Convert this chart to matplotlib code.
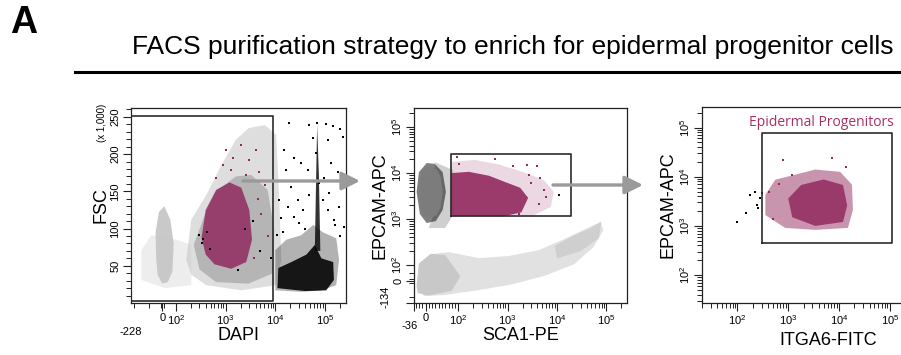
import numpy as np
import matplotlib
matplotlib.use('Agg')
import matplotlib.pyplot as plt
from matplotlib.ticker import FixedLocator, NullFormatter
import matplotlib.transforms as mtransforms

plt.rcParams['font.family'] = ['Liberation Sans', 'DejaVu Sans']
plt.rcParams['mathtext.fontset'] = 'custom'
plt.rcParams['mathtext.rm'] = 'Liberation Sans'
plt.rcParams['mathtext.it'] = 'Liberation Sans'

LIGHT = '#c4c4c4'
DARK = '#7c7c7c'
MAGENTA = '#922a5f'
GATE = '#2b2b2b'
ARROW = '#9a9a9a'

# ---------------- panel 1 : DAPI vs FSC (x 1,000) ----------------
p1_band_x = [-45, -50, -25, 15, 60, 85, 75, 40, 0, -35]
p1_band_y = [60, 95, 122, 130, 112, 80, 42, 28, 26, 38]

p1_low_x = [-141, -82, 103, 205, 205, 20, -141]
p1_low_y = [71, 91, 85, 78, 24, 20, 31]

p1_live_outer_x = [163, 205, 410, 822, 1600, 2900, 6200, 10400, 12000, 13200, 10400, 2070, 410, 205]
p1_live_outer_y = [58, 112, 145, 185, 219, 235, 239, 226, 138, 58, 24, 17, 24, 38]

p1_live_mid_x = [230, 380, 650, 1600, 3300, 7000, 9500, 9000, 2900, 650, 300]
p1_live_mid_y = [78, 118, 150, 170, 172, 152, 98, 40, 26, 28, 45]

p1_core_x = [330, 400, 650, 1200, 2070, 3000, 3400, 2600, 1300, 600, 400]
p1_core_y = [88, 125, 152, 162, 155, 125, 85, 55, 46, 52, 65]

p1_mag_pts_x = [1030, 1430, 2070, 3000, 4150, 1300, 4800, 6200, 2600, 652, 900, 5200, 7000, 3800, 4500]
p1_mag_pts_y = [206, 195, 212, 192, 206, 179, 176, 159, 172, 168, 185, 120, 90, 60, 140]

p1_blk_pts_x = [300, 360, 420, 330, 480, 2500, 5000, 3500, 8000, 1800]
p1_blk_pts_y = [92, 86, 95, 80, 72, 100, 70, 110, 60, 45]

p1_dead_x = [10000, 10000, 16600, 33000, 58000, 90000, 167000, 190000, 167000, 84000, 33000]
p1_dead_y = [17, 71, 85, 91, 105, 95, 87, 58, 24, 17, 15]
p1_dead_core_x = [11000, 11500, 21000, 42000, 62000, 84000, 145000, 150000, 105000, 40000]
p1_dead_core_y = [20, 47, 55, 65, 78, 60, 55, 31, 17, 16]
p1_streak_x = [62000, 66000, 69000, 75000, 80000]
p1_streak_y = [70, 170, 239, 170, 70]

p1_dead_pts_x = [19000, 48000, 69000, 105000, 145000, 200000, 58000, 115000, 225000, 15000,
                 24000, 33000, 133000, 180000, 16600, 46000, 95000, 210000, 18000, 28000,
                 48000, 120000, 190000, 24000, 13000, 115000, 235000, 12000, 36000, 150000,
                 21000, 66000, 77000, 90000, 14000, 40000, 160000, 200000, 11000, 30000]
p1_dead_pts_y = [242, 239, 242, 240, 238, 234, 222, 219, 223, 206,
                 195, 188, 188, 176, 179, 179, 168, 161, 129, 138,
                 145, 148, 129, 116, 114, 125, 102, 138, 125, 112,
                 156, 202, 161, 138, 95, 100, 105, 90, 92, 108]

p1_gate_x = [-228, 9000, 9000, -228, -228]
p1_gate_y = [3, 3, 251, 251, 3]

# ---------------- panel 2 : SCA1-PE vs EPCAM-APC ----------------
p2_band_x = [-28, -22, 15, 71, 260, 1050, 4300, 14000, 34000, 76000, 87000, 55000, 22000, 5400, 1050, 210, 56, -5]
p2_band_y = [-37, 103, 173, 191, 141, 157, 211, 367, 576, 862, 576, 245, 103, 31, -25, -60, -87, -93]
p2_blob_x = [-28, -20, 15, 60, 110, 80, 10, -25]
p2_blob_y = [-30, 110, 175, 165, 30, -60, -90, -75]
p2_tail_x = [9000, 20000, 45000, 80000, 70000, 30000, 10000]
p2_tail_y = [260, 420, 620, 880, 380, 200, 140]

p2_halo_x = [27, 84, 87, 59, 9, 40]
p2_halo_y = [17400, 11700, 1290, 640, 640, 2350]
p2_black_x = [-28, -21, 3, 27, 52, 62, 52, 31, 3, -18]
p2_black_y = [3900, 10500, 16600, 16000, 10500, 3900, 1580, 905, 820, 1290]
p2_ell_x = [15, 34, 46, 52, 46, 34, 15, -3, -15, -21, -15, -3]
p2_ell_y = [13600, 12300, 8200, 3900, 1830, 1220, 1050, 1220, 1830, 3900, 8200, 12300]

p2_mag_outer_x = [77, 210, 660, 2100, 5400, 8600, 7500, 3400, 77]
p2_mag_outer_y = [17400, 19400, 15500, 10500, 7100, 3900, 1830, 1220, 1160]
p2_mag_core_x = [77, 77, 163, 415, 830, 1800, 2600, 1900, 830]
p2_mag_core_y = [1150, 10000, 10700, 8800, 6600, 4800, 2900, 1400, 1150]
p2_mag_pts_x = [95, 550, 2450, 3900, 2700, 5400, 4300, 1700, 102, 3000, 6000, 1300, 4600]
p2_mag_pts_y = [22500, 20500, 15000, 14500, 9100, 4300, 2100, 1290, 15500, 6000, 3000, 14000, 8000]
p2_blk_pts_x = [11000]
p2_blk_pts_y = [3300]

p2_gate_x = [77, 19000, 19000, 77, 77]
p2_gate_y = [1150, 1150, 26000, 26000, 1150]

# ---------------- panel 3 : ITGA6-FITC vs EPCAM-APC ----------------
p3_mag_outer_x = [354, 556, 1370, 3400, 10500, 18000, 18800, 15000, 3400, 870, 354]
p3_mag_outer_y = [4300, 8700, 11000, 14000, 12600, 6900, 2100, 910, 830, 910, 1660]
p3_mag_core_x = [1000, 1800, 5000, 12000, 14500, 12000, 3400, 1200]
p3_mag_core_y = [3600, 6800, 8800, 6800, 2600, 1200, 1000, 1500]
p3_mag_pts_x = [800, 7300, 14000, 1200, 420, 500, 650]
p3_mag_pts_y = [22000, 24500, 16000, 11000, 5000, 1400, 7000]
p3_blk_pts_x = [100, 144, 180, 225, 246, 283, 309, 258]
p3_blk_pts_y = [1200, 1850, 4300, 4900, 2700, 3700, 4700, 2300]

p3_gate_x = [309, 110000, 110000, 309, 309]
p3_gate_y = [450, 450, 79000, 79000, 450]

decades = [100, 1000, 10000, 100000]
dec_labels = ['$10^2$', '$10^3$', '$10^4$', '$10^5$']
log_minor = [k * d for d in [10, 100, 1000, 10000, 100000] for k in range(2, 10)]

W, H = 901, 355
fig = plt.figure(figsize=(W / 100, H / 100), dpi=100)


def box(l, t, r, b):
    return [l / W, 1 - b / H, (r - l) / W, (b - t) / H]


def style(ax):
    for s in ax.spines.values():
        s.set_linewidth(0.9)
        s.set_color('#222222')
    ax.tick_params(which='major', length=6, width=0.8, labelsize=8, pad=1.5, color='#222222')
    ax.tick_params(which='minor', length=3.5, width=0.7, color='#222222')
    ax.tick_params(axis='y', labelrotation=90)
    for lab in ax.get_yticklabels():
        lab.set_va('center')


def cloud(ax, xs, ys, color, alpha, z=1):
    ax.fill(xs, ys, facecolor=color, alpha=alpha, linewidth=0, zorder=z)


def dots(ax, xs, ys, color, s=3):
    ax.scatter(xs, ys, s=s, marker='s', color=color, linewidths=0, zorder=3)


def low_label(ax, axis, value, text, offset):
    # the lower-limit label of a biexponential axis sits a little off the tick row
    if axis == 'x':
        tr = mtransforms.blended_transform_factory(ax.transData, ax.transAxes)
        ax.text(value, offset, text, transform=tr, fontsize=8, ha='center', va='center')
    else:
        tr = mtransforms.blended_transform_factory(ax.transAxes, ax.transData)
        ax.text(offset, value, text, transform=tr, fontsize=8, ha='center', va='center', rotation=90)


# panel 1
ax1 = fig.add_axes(box(131, 108, 346, 303))
ax1.set_xscale('symlog', linthresh=100, linscale=0.243)
ax1.set_xlim(-228, 262144)
ax1.set_ylim(0, 262)
cloud(ax1, p1_low_x, p1_low_y, LIGHT, 0.3)
cloud(ax1, p1_band_x, p1_band_y, LIGHT, 0.9)
cloud(ax1, p1_live_outer_x, p1_live_outer_y, LIGHT, 0.55)
cloud(ax1, p1_live_mid_x, p1_live_mid_y, '#a8a8a8', 0.75, z=2)
cloud(ax1, p1_core_x, p1_core_y, MAGENTA, 0.85, z=3)
dots(ax1, p1_mag_pts_x, p1_mag_pts_y, MAGENTA)
dots(ax1, p1_blk_pts_x, p1_blk_pts_y, 'black')
cloud(ax1, p1_dead_x, p1_dead_y, 'black', 0.3, z=2)
cloud(ax1, p1_dead_core_x, p1_dead_core_y, 'black', 0.88, z=3)
cloud(ax1, p1_streak_x, p1_streak_y, 'black', 0.8, z=3)
dots(ax1, p1_dead_pts_x, p1_dead_pts_y, 'black')
ax1.plot(p1_gate_x, p1_gate_y, color=GATE, lw=1.2, zorder=4)
ax1.set_xticks([0] + decades)
ax1.set_xticklabels(['0'] + dec_labels)
ax1.xaxis.set_minor_locator(FixedLocator([-200, -100, -10, 10] + log_minor[8:]))
ax1.set_yticks([50, 100, 150, 200, 250])
ax1.yaxis.set_minor_locator(FixedLocator(list(range(10, 261, 10))))
style(ax1)
low_label(ax1, 'x', -228, '-228', -0.15)
ax1.text(-0.135, 0.925, '(x 1,000)', transform=ax1.transAxes, fontsize=7, rotation=90, ha='center', va='center')
ax1.set_xlabel('DAPI', fontsize=13, labelpad=0)
ax1.set_ylabel('FSC', fontsize=13, labelpad=1)

# panel 2
ax2 = fig.add_axes(box(414, 108, 627, 303))
ax2.set_xscale('symlog', linthresh=100, linscale=0.594)
ax2.set_yscale('symlog', linthresh=100, linscale=0.315)
ax2.set_xlim(-36, 262144)
ax2.set_ylim(-134, 262144)
cloud(ax2, p2_band_x, p2_band_y, LIGHT, 0.5)
cloud(ax2, p2_blob_x, p2_blob_y, LIGHT, 0.85)
cloud(ax2, p2_tail_x, p2_tail_y, LIGHT, 0.6)
cloud(ax2, p2_halo_x, p2_halo_y, LIGHT, 0.8)
cloud(ax2, p2_black_x, p2_black_y, 'black', 0.5, z=2)
cloud(ax2, p2_ell_x, p2_ell_y, DARK, 1.0, z=3)
cloud(ax2, p2_mag_outer_x, p2_mag_outer_y, MAGENTA, 0.18, z=2)
cloud(ax2, p2_mag_core_x, p2_mag_core_y, MAGENTA, 0.9, z=3)
dots(ax2, p2_mag_pts_x, p2_mag_pts_y, MAGENTA)
dots(ax2, p2_blk_pts_x, p2_blk_pts_y, 'black')
ax2.plot(p2_gate_x, p2_gate_y, color=GATE, lw=1.2, zorder=4)
ax2.set_xticks([-36, 0] + decades)
ax2.set_xticklabels(['', '0'] + dec_labels)
ax2.xaxis.set_minor_locator(FixedLocator([-30, -20, -10] + list(range(10, 100, 10)) + log_minor[8:]))
ax2.set_yticks([-134, 0] + decades)
ax2.set_yticklabels(['', '0'] + dec_labels)
ax2.yaxis.set_minor_locator(FixedLocator([-100, -10, 10, 50] + log_minor[8:]))
ax2.xaxis.set_minor_formatter(NullFormatter())
ax2.yaxis.set_minor_formatter(NullFormatter())
style(ax2)
low_label(ax2, 'x', -50, '-36', -0.12)
low_label(ax2, 'y', -100, '-134', -0.135)
ax2.set_xlabel('SCA1-PE', fontsize=13, labelpad=0)
ax2.set_ylabel('EPCAM-APC', fontsize=13, labelpad=1)

# panel 3
ax3 = fig.add_axes(box(702, 107, 911, 303))
ax3.set_xscale('log')
ax3.set_yscale('log')
ax3.set_xlim(20, 262144)
ax3.set_ylim(27, 262144)
cloud(ax3, p3_mag_outer_x, p3_mag_outer_y, MAGENTA, 0.5, z=2)
cloud(ax3, p3_mag_core_x, p3_mag_core_y, MAGENTA, 0.85, z=3)
dots(ax3, p3_mag_pts_x, p3_mag_pts_y, MAGENTA)
dots(ax3, p3_blk_pts_x, p3_blk_pts_y, 'black', s=2)
ax3.plot(p3_gate_x, p3_gate_y, color=GATE, lw=1.2, zorder=4)
ax3.set_xticks(decades)
ax3.set_xticklabels(dec_labels)
ax3.set_yticks(decades)
ax3.set_yticklabels(dec_labels)
ax3.xaxis.set_minor_locator(FixedLocator(log_minor))
ax3.yaxis.set_minor_locator(FixedLocator(log_minor))
ax3.xaxis.set_minor_formatter(NullFormatter())
ax3.yaxis.set_minor_formatter(NullFormatter())
style(ax3)
ax3.set_xlabel('ITGA6-FITC', fontsize=13, labelpad=0)
ax3.xaxis.set_label_coords(0.603, -0.15)
ax3.set_ylabel('EPCAM-APC', fontsize=13, labelpad=1)
ax3.text(0.57, 0.92, 'Epidermal Progenitors', transform=ax3.transAxes, fontsize=10,
         color='#ab2f62', ha='center', va='center', family=['Open Sans', 'DejaVu Sans'])

# gating arrows
arrow_kw = dict(arrowstyle='-|>,head_length=1.1,head_width=0.55', color=ARROW, lw=2.4, shrinkA=0, shrinkB=0)
fig.add_artist(matplotlib.patches.FancyArrowPatch((243 / W, 1 - 181 / H), (360 / W, 1 - 181 / H),
                                                  transform=fig.transFigure, mutation_scale=10, **arrow_kw))
fig.add_artist(matplotlib.patches.FancyArrowPatch((553 / W, 1 - 185 / H), (643 / W, 1 - 185 / H),
                                                  transform=fig.transFigure, mutation_scale=10, **arrow_kw))

# header
fig.text(10 / W, 1 - 23 / H, 'A', fontsize=27, fontweight='bold', ha='left', va='center')
fig.text(513 / W, 1 - 54 / H, 'FACS purification strategy to enrich for epidermal progenitor cells',
         fontsize=19, ha='center', va='baseline')
fig.add_artist(plt.Line2D([75 / W, 1.0], [1 - 72 / H, 1 - 72 / H], color='black', lw=2.2,
                          transform=fig.transFigure))

fig.savefig('out.png', dpi=100)
